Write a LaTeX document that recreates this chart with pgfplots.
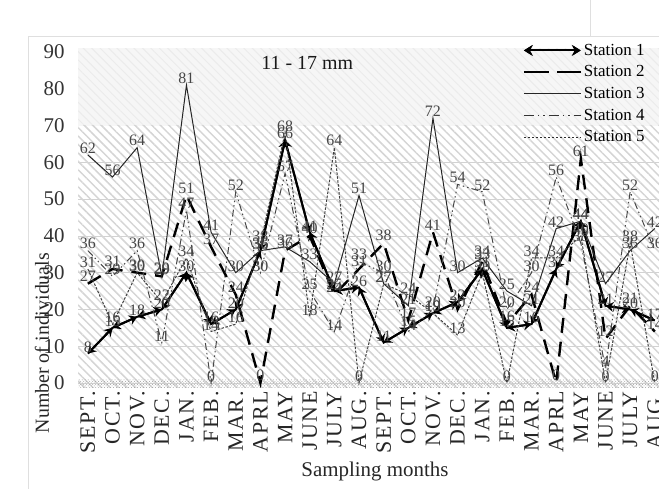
\documentclass[border=0pt]{standalone}
\usepackage{fontspec}
\setmainfont{Liberation Serif}
\usepackage{pgfplots}
\usepackage{pgfplotstable}
\pgfplotsset{compat=1.18}
\usetikzlibrary{patterns,patterns.meta,arrows.meta,decorations.pathreplacing}

\pgfplotstableread{
x s1 s2 s3 s4 s5
0 8 27 62 36 31
1 15 31 56 29 16
2 18 30 64 36 30
3 20 29 29 11 22
4 30 51 81 47 34
5 16 37 41 0 14
6 20 24 30 52 16
7 36 0 36 30 38
8 66 36 37 57 68
9 41 40 33 25 18
10 25 24 27 14 64
11 26 31 51 33 0
12 11 38 27 30 27
13 15 17 21 14 24
14 19 41 72 20 19
15 22 20 30 54 13
16 31 33 34 52 30
17 15 16 25 20 0
18 16 24 21 30 34
19 31 0 42 56 34
20 44 61 44 38 40
21 21 12 27 4 0
22 20 21 36 52 38
23 17 14 42 36 0
}\data

\begin{document}
\begin{tikzpicture}
\begin{axis}[
  at={(78bp,101bp)}, anchor=south west,
  scale only axis, width=581bp, height=340bp,
  xmin=-0.4, xmax=23.17, ymin=-1.36, ymax=91.09,
  axis line style={draw=none},
  major tick length=0pt,
  xtick={0,...,23},
  xticklabels={SEPT.,OCT.,NOV.,DEC.,JAN.,FEB.,MAR.,APRL,MAY,JUNE,JULY,AUG.,SEPT.,OCT.,NOV.,DEC.,JAN.,FEB.,MAR.,APRL,MAY,JUNE,JULY,AUG.},
  xticklabel style={rotate=90, anchor=east, font=\fontsize{22}{22}\selectfont\addfontfeature{LetterSpace=8}, inner sep=3pt, text=black!85},
  ytick={0,10,...,90},
  yticklabel style={font=\fontsize{21}{21}\selectfont, xshift=-10pt, text=black!80},
  /pgf/number format/assume math mode=true,
  ymajorgrids, grid style={gray!35, line width=0.6pt},
  xlabel={Sampling months}, ylabel={Number of individuals},
  every axis x label/.style={at={(axis description cs:0.511,-0.245)}, anchor=center, font=\fontsize{21}{21}\selectfont, text=black!85},
  every axis y label/.style={at={(axis description cs:-0.062,0.132)}, anchor=center, rotate=90, font=\fontsize{20}{20}\selectfont, text=black!85},
  legend style={draw=none, fill=none, at={(0.979,1.018)}, anchor=north east,
    font=\fontsize{17}{17}\selectfont, row sep=5pt, inner sep=0pt, cells={anchor=west}},
  every node near coord/.append style={font=\fontsize{16}{16}\selectfont, text=gray!55!black, inner sep=1pt},
]
\fill[gray!7] (axis cs:-0.4,70) rectangle (axis cs:23.17,91.09);
\fill[pattern={Lines[angle=-45,distance=6pt,line width=1pt]}, pattern color=gray!16] (axis cs:-0.4,70) rectangle (axis cs:23.17,91.09);
\fill[pattern={Lines[angle=-45,distance=6pt,line width=1.5pt]}, pattern color=gray!33] (axis cs:-0.4,-1.36) rectangle (axis cs:23.17,70);
\fill[pattern=crosshatch dots, pattern color=gray!75] (axis cs:-0.4,-1.36) rectangle (axis cs:23.17,0.9);

\addplot[black, line width=2pt, postaction={decorate},
  decoration={show path construction,
    moveto code={},
    lineto code={\draw[black,line width=2pt,{Stealth[length=8pt,width=10pt]}-{Stealth[length=8pt,width=10pt]}] (\tikzinputsegmentfirst) -- (\tikzinputsegmentlast);}},
  legend image code/.code={\draw[black,line width=2pt,{Stealth[length=9pt,width=11pt]}-{Stealth[length=9pt,width=11pt]}] (0pt,0pt) -- (57pt,0pt);}]
  table[x=x,y=s1]{\data};
\addlegendentry{Station 1}
\addplot[black, line width=2.4pt, dash pattern=on 15pt off 9pt, nodes near coords,
  legend image code/.code={\draw[black,line width=2.4pt,dash pattern=on 25pt off 8pt] (0pt,0pt) -- (57pt,0pt);}]
  table[x=x,y=s2]{\data};
\addlegendentry{Station 2}
\addplot[gray!30!black, line width=1pt, nodes near coords,
  legend image code/.code={\path (0pt,0pt) -- (57pt,0pt);}]
  table[x=x,y=s3]{\data};
\addlegendentry{Station 3}
\addplot[gray!55!black, line width=1pt, dash pattern=on 7pt off 3pt on 1.5pt off 3pt on 1.5pt off 3pt, nodes near coords,
  legend image code/.code={\draw[gray!40!black,line width=1pt,dash pattern=on 10pt off 4pt on 1.5pt off 4pt on 1.5pt off 4pt] (0pt,0pt) -- (57pt,0pt);}]
  table[x=x,y=s4]{\data};
\addlegendentry{Station 4}
\addplot[gray!50!black, line width=1pt, dash pattern=on 2.5pt off 1.5pt, nodes near coords,
  legend image code/.code={\draw[gray!35!black,line width=1pt,dash pattern=on 2.5pt off 1.5pt] (0pt,0pt) -- (57pt,0pt);}]
  table[x=x,y=s5]{\data};
\addlegendentry{Station 5}
\addplot[draw=none, nodes near coords, forget plot] table[x=x,y=s1]{\data};

\node[font=\fontsize{20}{20}\selectfont, text=gray!20!black] at (axis cs:8.9,87) {11 - 17 mm};
\end{axis}
\draw[gray!25, line width=1pt] (28bp,0bp) -- (28bp,452bp) -- (659bp,452bp);
\draw[gray!25, line width=1pt] (590bp,452bp) -- (590bp,489bp);
\pgfresetboundingbox
\useasboundingbox (0bp,0bp) rectangle (659bp,489bp);
\end{tikzpicture}
\end{document}
